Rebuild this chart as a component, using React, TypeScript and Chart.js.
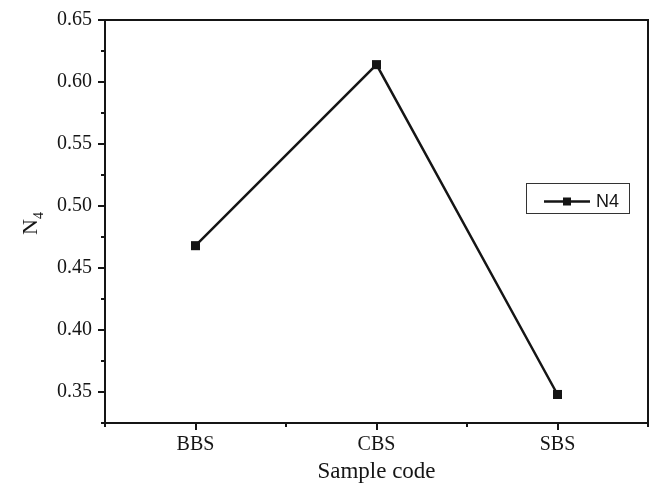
import React, { useEffect, useRef } from "react";
import { Chart, registerables } from "chart.js";

Chart.register(...registerables);

const categories = ["BBS", "CBS", "SBS"];
const n4Values = [0.468, 0.614, 0.348];
const seriesLabel = "N4";
const yMin = 0.325;
const yMax = 0.65;
const xAxisTitle = "Sample code";
const yAxisTitleMain = "N";
const yAxisTitleSub = "4";

const SERIF = "'Liberation Serif', 'Times New Roman', serif";
const SANS = "'Liberation Sans', Arial, sans-serif";
const INK = "#151515";

const framePlugin = {
  id: "frameAndTicks",
  afterDraw(chart: any) {
    const ctx = chart.ctx;
    const { left, right, top, bottom } = chart.chartArea;
    ctx.save();
    ctx.strokeStyle = INK;
    ctx.lineWidth = 2;
    ctx.strokeRect(left, top, right - left, bottom - top);

    // y ticks
    const ys = chart.scales.y;
    ys.ticks.forEach((t: any) => {
      const p = Math.round(ys.getPixelForValue(t.value));
      const major = Math.round(t.value * 40) % 2 === 0;
      const len = major ? 7 : 4;
      ctx.beginPath();
      ctx.moveTo(left - len, p);
      ctx.lineTo(left, p);
      ctx.stroke();
    });
    // x ticks
    const xs = chart.scales.x;
    xs.ticks.forEach((t: any) => {
      const p = Math.round(xs.getPixelForValue(t.value));
      const major = Math.abs(t.value - Math.round(t.value)) < 1e-6;
      const len = major ? 7 : 4;
      ctx.beginPath();
      ctx.moveTo(p, bottom);
      ctx.lineTo(p, bottom + len);
      ctx.stroke();
    });

    // y axis title with subscript
    ctx.fillStyle = INK;
    ctx.translate(37, 235);
    ctx.rotate(-Math.PI / 2);
    ctx.textBaseline = "alphabetic";
    ctx.textAlign = "left";
    ctx.font = `22px ${SERIF}`;
    ctx.fillText(yAxisTitleMain, 0, 0);
    const w = ctx.measureText(yAxisTitleMain).width;
    ctx.font = `14px ${SERIF}`;
    ctx.fillText(yAxisTitleSub, w, 6);
    ctx.restore();

    // legend
    ctx.save();
    const lx = right - 122;
    const ly = top + 163;
    ctx.strokeStyle = "#333";
    ctx.lineWidth = 1;
    ctx.strokeRect(lx + 0.5, ly + 0.5, 103, 30);
    const cy = ly + 18.5;
    ctx.strokeStyle = INK;
    ctx.lineWidth = 2.5;
    ctx.beginPath();
    ctx.moveTo(lx + 18, cy);
    ctx.lineTo(lx + 64, cy);
    ctx.stroke();
    ctx.fillStyle = INK;
    ctx.fillRect(lx + 37, cy - 4, 8, 8);
    ctx.font = `18px ${SANS}`;
    ctx.textBaseline = "middle";
    ctx.textAlign = "left";
    ctx.fillText(chart.data.datasets[0].label, lx + 70, cy + 1);
    ctx.restore();
  },
};

export default function App() {
  const ref = useRef<HTMLCanvasElement>(null);
  useEffect(() => {
    if (!ref.current) return;
    const chart = new Chart(ref.current, {
      type: "line",
      data: {
        datasets: [
          {
            label: seriesLabel,
            data: n4Values.map((v, i) => ({ x: i, y: v })),
            borderColor: INK,
            backgroundColor: INK,
            borderWidth: 2.5,
            pointStyle: "rect",
            pointRadius: 6.4,
            pointBackgroundColor: INK,
            pointBorderWidth: 0,
            tension: 0,
          },
        ],
      },
      options: {
        responsive: false,
        animation: false,
        layout: { autoPadding: false, padding: { top: 20, right: 2, left: 0, bottom: 0 } },
        plugins: {
          legend: { display: false },
          tooltip: { enabled: false },
        },
        scales: {
          x: {
            type: "linear",
            min: -0.5,
            max: 2.5,
            afterFit: (s: any) => {
              s.height = 61;
              s.paddingLeft = 0;
              s.paddingRight = 0;
            },
            border: { display: false },
            grid: { display: false, drawTicks: false },
            ticks: {
              stepSize: 0.5,
              autoSkip: false,
              maxRotation: 0,
              padding: 10,
              color: INK,
              font: { family: SERIF, size: 20 },
              callback: (v: any) => {
                const n = Number(v);
                return Math.abs(n - Math.round(n)) < 1e-6 && categories[Math.round(n)] !== undefined
                  ? categories[Math.round(n)]
                  : "";
              },
            },
            title: {
              display: true,
              text: xAxisTitle,
              color: INK,
              font: { family: SERIF, size: 23 },
              padding: { top: 0, bottom: -2 },
            },
          },
          y: {
            type: "linear",
            min: yMin,
            max: yMax,
            afterFit: (s: any) => {
              s.width = 105;
              s.paddingTop = 0;
              s.paddingBottom = 0;
            },
            border: { display: false },
            grid: { display: false, drawTicks: false },
            ticks: {
              stepSize: 0.025,
              autoSkip: false,
              padding: 13,
              color: INK,
              font: { family: SERIF, size: 20 },
              callback: (v: any) => {
                const n = Number(v);
                return Math.round(n * 40) % 2 === 0 ? n.toFixed(2) : "";
              },
            },
          },
        },
      },
      plugins: [framePlugin],
    } as any);
    return () => chart.destroy();
  }, []);
  return (
    <div style={{ position: "absolute", left: 0, top: 0, width: 650, height: 484, background: "#fff" }}>
      <canvas ref={ref} width={650} height={484} style={{ display: "block" }} />
    </div>
  );
}
